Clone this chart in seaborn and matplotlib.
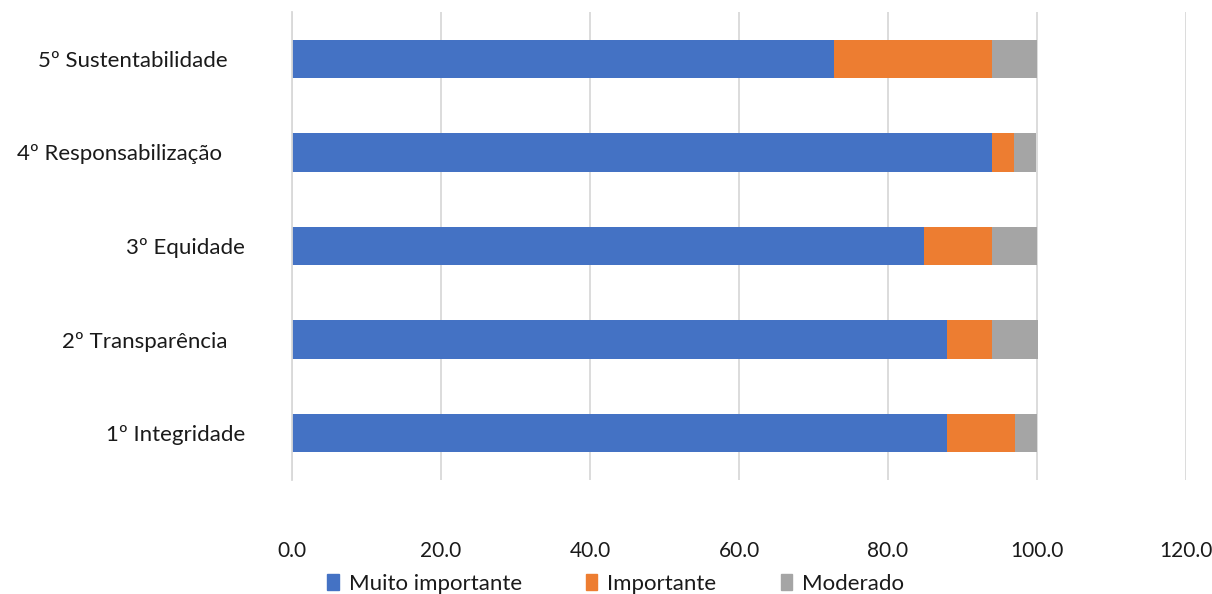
import matplotlib
matplotlib.use("Agg")
import matplotlib.pyplot as plt
import seaborn as sns
import pandas as pd
import numpy as np

categories = ["5º Sustentabilidade", "4º Responsabilização", "3º Equidade",
              "2º Transparência", "1º Integridade"]
label_text = ["5º Sustentabilidade   ", "4º Responsabilização    ", "3º Equidade",
              "2º Transparência   ", "1º Integridade"]
muito_importante = [72.7, 93.9, 84.8, 87.9, 87.9]
importante = [21.2, 3.0, 9.1, 6.1, 9.1]
moderado = [6.1, 3.0, 6.1, 6.1, 3.0]
series_names = ["Muito importante", "Importante", "Moderado"]
colors = ["#4472C4", "#ED7D31", "#A5A5A5"]
xticks = [0, 20, 40, 60, 80, 100, 120]

sns.set_theme(style="white")
plt.rcParams['font.family'] = ['Lato', 'DejaVu Sans']

fig = plt.figure(figsize=(12.12, 5.94), dpi=100)
ax = fig.add_axes([292/1212, 1-480/594, (1186-292)/1212, (480-12)/594])

cum = np.zeros(len(categories))
series = [muito_importante, importante, moderado]
for i, (name, vals, col) in enumerate(zip(series_names, series, colors)):
    d = pd.DataFrame({"cat": categories, "val": np.array(vals) + cum})
    sns.barplot(data=d, x="val", y="cat", color=col, width=0.41, ax=ax,
                label=name, saturation=1, order=categories)
    cum = cum + np.array(vals)

# later (cumulative, longer) series drawn beneath the earlier ones
for i, cont in enumerate(ax.containers):
    for p in cont.patches:
        p.set_zorder(5 - i)
        p.set_linewidth(0)

ax.set_xlim(0, 120)
ax.set_xticks(xticks)
ax.set_xticklabels([f"{v:.1f}" for v in xticks])
ax.set_yticks(range(len(categories)))
ax.set_yticklabels(label_text)
ax.set_ylim(len(categories) - 0.5, -0.5)
ax.set_xlabel("")
ax.set_ylabel("")
ax.grid(axis="x", color="#D9D9D9", linewidth=1.3, zorder=0)
ax.set_axisbelow(True)
for s in ["top", "right", "bottom"]:
    ax.spines[s].set_visible(False)
ax.spines["left"].set_color("#D9D9D9")
ax.spines["left"].set_linewidth(1.3)
ax.spines["left"].set_zorder(10)
ax.tick_params(axis="x", length=0, pad=44, labelsize=15, labelcolor="#1a1a1a")
ax.tick_params(axis="y", length=0, pad=34, labelsize=16, labelcolor="#1a1a1a")

if ax.legend_:
    ax.legend_.remove()
handles = [plt.Rectangle((0, 0), 1, 1, color=c) for c in colors]
fig.legend(handles, series_names, loc="lower center", bbox_to_anchor=(0.508, -0.033),
           ncol=3, frameon=False, fontsize=16, handlelength=0.5, handleheight=0.7,
           handletextpad=0.45, columnspacing=2.9, labelcolor="#1a1a1a")

fig.savefig("out.png", dpi=100)
